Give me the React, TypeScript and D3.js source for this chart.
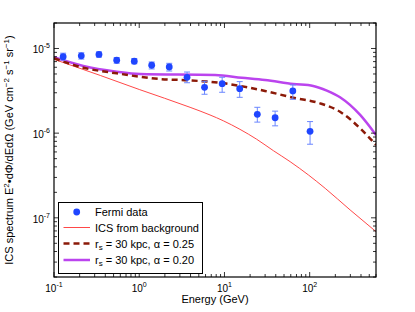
import React from 'react';
import * as d3 from 'd3';

// Fermi data points (GeV, E^2 dPhi/dE dOmega)
const fermiEnergy = [0.128, 0.209, 0.337, 0.544, 0.875, 1.40, 2.25, 3.64, 5.84, 9.4, 15.1, 24.3, 39.3, 63.4, 101];
const fermiFlux = [8.0e-6, 8.2e-6, 8.5e-6, 7.26e-6, 7.07e-6, 6.34e-6, 6.05e-6, 4.57e-6, 3.48e-6, 3.84e-6, 3.35e-6, 1.67e-6, 1.52e-6, 3.15e-6, 1.05e-6];
const fermiHi = [8.8e-6, 8.9e-6, 9.1e-6, 7.8e-6, 7.6e-6, 6.93e-6, 6.68e-6, 5.27e-6, 4.1e-6, 4.57e-6, 4.06e-6, 2.02e-6, 1.82e-6, 3.71e-6, 1.37e-6];
const fermiLo = [7.3e-6, 7.5e-6, 7.9e-6, 6.7e-6, 6.6e-6, 5.73e-6, 5.42e-6, 3.94e-6, 2.88e-6, 3.04e-6, 2.65e-6, 1.35e-6, 1.22e-6, 2.51e-6, 7.4e-7];

// ICS from background
const bgEnergy = [0.1, 0.35, 1, 3.95, 6.77, 9.7, 15.2, 23.9, 37.5, 58.9, 96.6, 152, 298, 600];
const bgFlux = [7.45e-6, 4.8e-6, 3.28e-6, 2.02e-6, 1.64e-6, 1.40e-6, 1.11e-6, 8.47e-7, 6.21e-7, 4.61e-7, 3.21e-7, 2.23e-7, 1.24e-7, 6.87e-8];

// r_s = 30 kpc, alpha = 0.25
const a25Energy = [0.1, 0.221, 0.544, 1.75, 3.77, 9.29, 29.9, 64.4, 132, 227, 391, 600];
const a25Flux = [7.66e-6, 5.93e-6, 5.09e-6, 4.36e-6, 4.21e-6, 3.91e-6, 3.15e-6, 2.62e-6, 2.25e-6, 1.79e-6, 1.14e-6, 7.26e-7];

// r_s = 30 kpc, alpha = 0.20
const a20Energy = [0.1, 0.221, 0.544, 1.02, 7.76, 16, 29.9, 64.4, 110, 159, 227, 391, 600];
const a20Flux = [7.87e-6, 6.2e-6, 5.32e-6, 5.0e-6, 4.86e-6, 4.52e-6, 4.25e-6, 3.81e-6, 3.61e-6, 3.18e-6, 2.65e-6, 1.64e-6, 9.5e-7];

const xDomain = [0.1, 600];
const yDomain = [2e-8, 2e-5];
const xMajor = [-1, 0, 1, 2];
const yMajor = [-7, -6, -5];

const W = 415, H = 312;
const m = { left: 54, right: 376, top: 23, bottom: 277 };
const font = "'Liberation Sans', Arial, sans-serif";

function minorTicks(lo: number, hi: number) {
  const out: number[] = [];
  for (let p = Math.floor(Math.log10(lo)); p <= Math.ceil(Math.log10(hi)); p++) {
    for (let k = 1; k < 10; k++) {
      const v = k * Math.pow(10, p);
      if (v >= lo * 0.999 && v <= hi * 1.001) out.push(v);
    }
  }
  return out;
}

export default function App() {
  const x = d3.scaleLog().domain(xDomain).range([m.left, m.right]);
  const y = d3.scaleLog().domain(yDomain).range([m.bottom, m.top]);

  const line = (es: number[], fs: number[]) =>
    d3.line<number>().x((_, i) => x(es[i])).y((_, i) => y(fs[i])).curve(d3.curveMonotoneX)(fs) || '';

  const xt = minorTicks(xDomain[0], xDomain[1]);
  const yt = minorTicks(yDomain[0], yDomain[1]);
  const isMajor = (v: number) => Math.abs(Math.log10(v) - Math.round(Math.log10(v))) < 1e-6;

  const errColor = '#6a86ff';
  const ptColor = '#1f45ff';
  const legendRows = [212, 227.5, 243.5, 260];

  return (
    <svg width={W} height={H} style={{ position: 'absolute', left: 0, top: 0, background: '#fff' }} fontFamily={font}>
      <defs>
        <clipPath id="plot">
          <rect x={m.left} y={m.top} width={m.right - m.left} height={m.bottom - m.top} />
        </clipPath>
      </defs>
      <rect width={W} height={H} fill="#fff" />

      <g clipPath="url(#plot)">
        <path d={line(bgEnergy, bgFlux)} fill="none" stroke="#ff4848" strokeWidth={1} />
        <path d={line(a20Energy, a20Flux)} fill="none" stroke="#bb44ee" strokeWidth={2.5} />
        <path d={line(a25Energy, a25Flux)} fill="none" stroke="#8b1a08" strokeWidth={2.5} strokeDasharray="6,4" />
        {fermiEnergy.map((e, i) => (
          <g key={i}>
            <line x1={x(e)} x2={x(e)} y1={y(fermiLo[i])} y2={y(fermiHi[i])} stroke={errColor} strokeWidth={1} />
            <line x1={x(e) - 3} x2={x(e) + 3} y1={y(fermiLo[i])} y2={y(fermiLo[i])} stroke={errColor} strokeWidth={1} />
            <line x1={x(e) - 3} x2={x(e) + 3} y1={y(fermiHi[i])} y2={y(fermiHi[i])} stroke={errColor} strokeWidth={1} />
            <circle cx={x(e)} cy={y(fermiFlux[i])} r={3.4} fill={ptColor} />
          </g>
        ))}
      </g>

      {/* ticks */}
      {xt.map((v, i) => {
        const len = isMajor(v) ? 5 : 3;
        return (
          <g key={'xt' + i} stroke="#000" strokeWidth={0.8}>
            <line x1={x(v)} x2={x(v)} y1={m.bottom} y2={m.bottom - len} />
            <line x1={x(v)} x2={x(v)} y1={m.top} y2={m.top + len} />
          </g>
        );
      })}
      {yt.map((v, i) => {
        const len = isMajor(v) ? 5 : 3;
        return (
          <g key={'yt' + i} stroke="#000" strokeWidth={0.8}>
            <line x1={m.left} x2={m.left + len} y1={y(v)} y2={y(v)} />
            <line x1={m.right} x2={m.right - len} y1={y(v)} y2={y(v)} />
          </g>
        );
      })}
      <rect x={m.left} y={m.top} width={m.right - m.left} height={m.bottom - m.top} fill="none" stroke="#000" strokeWidth={1.2} />

      {/* tick labels */}
      {xMajor.map(p => (
        <text key={'xl' + p} x={x(Math.pow(10, p))} y={291.5} fontSize={10} textAnchor="middle">
          10<tspan dy={-5} fontSize={7}>{p}</tspan>
        </text>
      ))}
      {yMajor.map(p => (
        <text key={'yl' + p} x={50} y={y(Math.pow(10, p)) + 5} fontSize={10} textAnchor="end">
          10<tspan dy={-5} fontSize={7}>{p}</tspan>
        </text>
      ))}

      <text x={(m.left + m.right) / 2} y={302.5} fontSize={11} textAnchor="middle">Energy (GeV)</text>
      <text transform={`translate(13,${(m.top + m.bottom) / 2}) rotate(-90)`} fontSize={11} textAnchor="middle">
        ICS spectrum E<tspan dy={-4} fontSize={8}>2</tspan><tspan dy={4}>•dΦ/dEdΩ (GeV cm</tspan>
        <tspan dy={-4} fontSize={8}>−2</tspan><tspan dy={4}> s</tspan>
        <tspan dy={-4} fontSize={8}>−1</tspan><tspan dy={4}> sr</tspan>
        <tspan dy={-4} fontSize={8}>−1</tspan><tspan dy={4}>)</tspan>
      </text>

      {/* legend */}
      <rect x={58.5} y={202.5} width={144} height={71} fill="#fff" stroke="#000" strokeWidth={1} />
      <circle cx={76.7} cy={legendRows[0]} r={3.4} fill={ptColor} />
      <line x1={63.5} x2={90} y1={legendRows[1]} y2={legendRows[1]} stroke="#ff4848" strokeWidth={1} />
      <line x1={63.5} x2={90} y1={legendRows[2]} y2={legendRows[2]} stroke="#8b1a08" strokeWidth={2.5} strokeDasharray="6,4" />
      <line x1={63.5} x2={90} y1={legendRows[3]} y2={legendRows[3]} stroke="#bb44ee" strokeWidth={2.5} />
      <text x={95} y={legendRows[0] + 4} fontSize={11}>Fermi data</text>
      <text x={95} y={legendRows[1] + 4} fontSize={11}>ICS from background</text>
      <text x={95} y={legendRows[2] + 4} fontSize={11}>r<tspan dy={2} fontSize={8}>s</tspan><tspan dy={-2}> = 30 kpc, α = 0.25</tspan></text>
      <text x={95} y={legendRows[3] + 4} fontSize={11}>r<tspan dy={2} fontSize={8}>s</tspan><tspan dy={-2}> = 30 kpc, α = 0.20</tspan></text>
    </svg>
  );
}
